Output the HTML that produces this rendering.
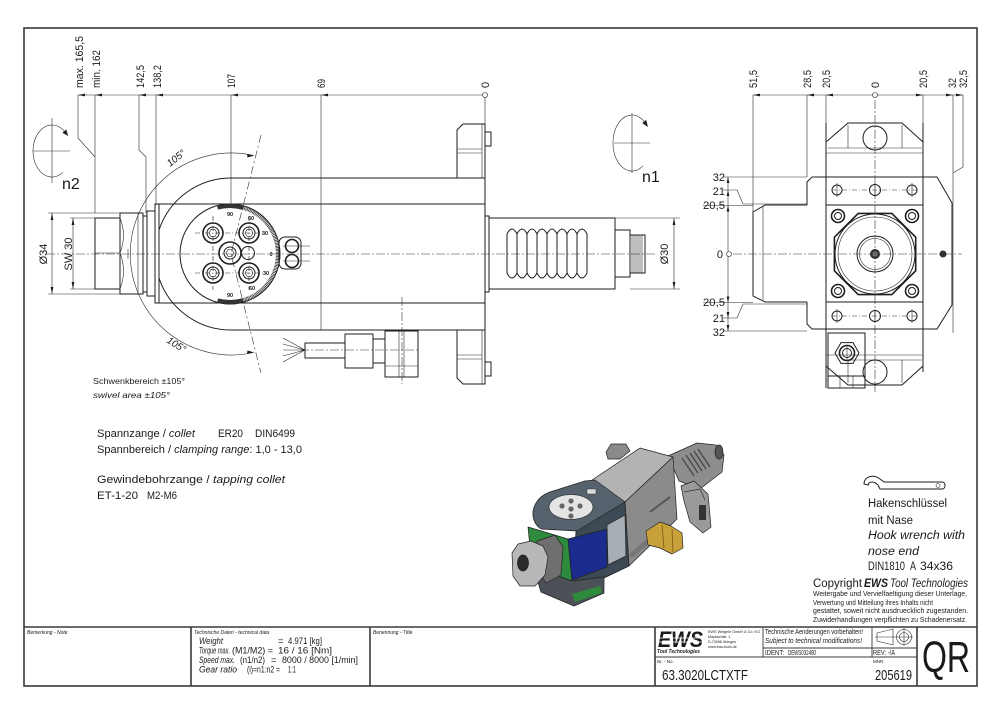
<!DOCTYPE html>
<html><head><meta charset="utf-8"><style>
html,body{margin:0;padding:0;background:#fff;width:1000px;height:715px;overflow:hidden}
svg{display:block}
text{font-family:"Liberation Sans","DejaVu Sans",sans-serif;fill:#1a1a1a}
.l{stroke:#1e1e1e;stroke-width:1;fill:none}
.t{stroke:#2a2a2a;stroke-width:0.6;fill:none}
.k{stroke:#1e1e1e;stroke-width:1.6;fill:none}
.c{stroke:#333;stroke-width:0.6;fill:none;stroke-dasharray:9 2 2 2}
.a{fill:#1e1e1e;stroke:none}
.w{fill:#fff}
</style></head><body>
<svg xmlns="http://www.w3.org/2000/svg" width="1000" height="715" viewBox="0 0 1000 715">
<rect width="1000" height="715" fill="#fff"/>

<!-- FRAME & TITLE BLOCK -->
<g stroke="#3a3a3a" stroke-width="1.6" fill="none">
<rect x="24" y="28" width="953" height="658"/>
<line x1="24" y1="627" x2="977" y2="627"/>
<line x1="191" y1="627" x2="191" y2="686"/>
<line x1="370" y1="627" x2="370" y2="686"/>
<line x1="655" y1="627" x2="655" y2="686"/>
<line x1="917" y1="627" x2="917" y2="686"/>
</g>
<g stroke="#3a3a3a" stroke-width="0.9" fill="none">
<line x1="763" y1="627" x2="763" y2="657"/>
<line x1="872" y1="627" x2="872" y2="657"/>
<line x1="763" y1="648" x2="917" y2="648"/>
<line x1="655" y1="657" x2="917" y2="657"/>
</g>
<text x="27" y="634" font-size="5" font-style="italic">Bemerkung - Note</text>
<text x="194" y="634" font-size="5" font-style="italic">Technische Daten - technical data</text>
<text x="373" y="634" font-size="5" font-style="italic">Benennung - Title</text>

<g font-size="9.5">
<text x="199" y="644" font-style="italic" textLength="24" lengthAdjust="spacingAndGlyphs">Weight</text>
<text x="278" y="644">=</text>
<text x="288" y="644" textLength="34" lengthAdjust="spacingAndGlyphs">4.971 [kg]</text>
<text x="199" y="653.5" font-style="italic" textLength="31" lengthAdjust="spacingAndGlyphs">Torque max.</text>
<text x="232" y="653.5" textLength="41" lengthAdjust="spacingAndGlyphs">(M1/M2) =</text>
<text x="278" y="653.5" textLength="54" lengthAdjust="spacingAndGlyphs">16 / 16 [Nm]</text>
<text x="199" y="663" font-style="italic" textLength="36" lengthAdjust="spacingAndGlyphs">Speed max.</text>
<text x="240" y="663" textLength="25" lengthAdjust="spacingAndGlyphs">(n1/n2)</text>
<text x="271" y="663">=</text>
<text x="282" y="663" textLength="76" lengthAdjust="spacingAndGlyphs">8000 / 8000 [1/min]</text>
<text x="199" y="672.5" font-style="italic" textLength="38" lengthAdjust="spacingAndGlyphs">Gear ratio</text>
<text x="247" y="672.5" textLength="33" lengthAdjust="spacingAndGlyphs">(i)=n1:n2 =</text>
<text x="288" y="672.5" textLength="8" lengthAdjust="spacingAndGlyphs">1:1</text>
</g>

<!-- EWS logo -->
<text x="658" y="647" font-size="22" font-weight="bold" font-style="italic" textLength="45" lengthAdjust="spacingAndGlyphs">EWS</text>
<line x1="656" y1="638" x2="705" y2="638" stroke="#fff" stroke-width="0.8"/>
<line x1="656" y1="642" x2="705" y2="642" stroke="#fff" stroke-width="0.8"/>
<text x="657" y="653" font-size="5.5" font-weight="bold" font-style="italic" textLength="43" lengthAdjust="spacingAndGlyphs">Tool Technologies</text>
<g font-size="3.6">
<text x="708" y="633" textLength="52" lengthAdjust="spacingAndGlyphs">EWS Weigele GmbH &amp; Co. KG</text>
<text x="708" y="638">Maybachstr. 1</text>
<text x="708" y="643">D-73066 Uhingen</text>
<text x="708" y="648">www.ews-tools.de</text>
</g>
<text x="765" y="634" font-size="7" textLength="98" lengthAdjust="spacingAndGlyphs">Technische Aenderungen vorbehalten!</text>
<text x="765" y="643" font-size="7" font-style="italic" textLength="97" lengthAdjust="spacingAndGlyphs">Subject to technical modifications!</text>
<text x="765" y="655" font-size="7" textLength="19" lengthAdjust="spacingAndGlyphs">IDENT:</text>
<text x="788" y="655" font-size="7" textLength="28" lengthAdjust="spacingAndGlyphs">DEWS032480</text>
<text x="873" y="655" font-size="7" textLength="22" lengthAdjust="spacingAndGlyphs">REV:  -/A</text>
<!-- icon -->
<g class="t" stroke-width="0.8">
<path d="M877,633 L893,629 V645 L877,641 Z"/>
<line x1="875" y1="637" x2="895" y2="637"/>
<circle cx="904" cy="637" r="7.5"/>
<circle cx="904" cy="637" r="4.5"/>
<line x1="895" y1="637" x2="913" y2="637"/>
<line x1="904" y1="628" x2="904" y2="646"/>
</g>
<text x="657" y="663" font-size="4.5">Nr. - No.</text>
<text x="873" y="663" font-size="4.5">MNR.</text>
<text x="662" y="680" font-size="15" textLength="86" lengthAdjust="spacingAndGlyphs">63.3020LCTXTF</text>
<text x="875" y="680" font-size="15" textLength="37" lengthAdjust="spacingAndGlyphs">205619</text>
<text x="922" y="672" font-size="44" textLength="48" lengthAdjust="spacingAndGlyphs">QR</text>

<!-- ============ LEFT VIEW ============ -->
<g class="t" stroke-width="0.9">
<line x1="52" y1="118" x2="52" y2="183"/>
<line x1="33" y1="151" x2="70" y2="151"/>
<path d="M64.2,131.1 A19,26 0 1 0 62.9,172.3"/>
</g>
<polygon points="68.2,136 62.4,132.8 66.2,129.4" class="a"/>
<text x="62" y="189" font-size="16">n2</text>

<g class="t">
<line x1="78" y1="95" x2="482.5" y2="95"/>
<path d="M78,95V138L95,157"/>
<path d="M95,95V213"/>
<path d="M139,95V150L146,157V213"/>
<path d="M156,95V205"/>
<path d="M231,95V204"/>
<path d="M321,95V330"/>
<path d="M485,97.5V124"/>
</g>
<circle cx="485" cy="95" r="2.5" fill="#fff" stroke="#222" stroke-width="0.6"/>
<path class="a" d="M78,95l7,-1.4v2.8z M95,95l7,-1.4v2.8z M139,95l7,-1.4v2.8z M156,95l7,-1.4v2.8z M231,95l7,-1.4v2.8z M321,95l7,-1.4v2.8z"/>
<g font-size="11">
<text transform="translate(83,88) rotate(-90)" textLength="52" lengthAdjust="spacingAndGlyphs">max. 165,5</text>
<text transform="translate(100,88) rotate(-90)" textLength="38" lengthAdjust="spacingAndGlyphs">min. 162</text>
<text transform="translate(144,88) rotate(-90)" textLength="23" lengthAdjust="spacingAndGlyphs">142,5</text>
<text transform="translate(161,88) rotate(-90)" textLength="23" lengthAdjust="spacingAndGlyphs">138,2</text>
<text transform="translate(235,88) rotate(-90)" textLength="14" lengthAdjust="spacingAndGlyphs">107</text>
<text transform="translate(325,88) rotate(-90)" textLength="9" lengthAdjust="spacingAndGlyphs">69</text>
<text transform="translate(489,88) rotate(-90)">0</text>
</g>

<line x1="46" y1="254" x2="655" y2="254" class="c"/>

<path class="t" d="M253.6,155.5 A101,101 0 1 0 253.6,352.5"/>
<line x1="128" y1="249" x2="128" y2="259" class="t"/>
<path class="t" style="stroke-dasharray:8 3 2 3" d="M261,135 L231,254 L261,373"/>
<path class="a" d="M254,155.6 l-7,-1.5 l0.5,3.4z M254,352.4 l-7,1.5 l0.5,-3.4z"/>
<text transform="translate(170,167) rotate(-38)" font-size="10" font-style="italic">105°</text>
<text transform="translate(166,342) rotate(32)" font-size="10" font-style="italic">105°</text>

<path class="l" d="M231,178H485V330H231 M157,204H485 M157,303H485"/>
<path class="l" d="M231,178A76,76 0 0 0 159,230 M159,278A76,76 0 0 0 231,330"/>
<rect x="147" y="211" width="8" height="85" class="l"/>
<rect x="155" y="204" width="4" height="99" class="l"/>
<rect x="95" y="218" width="25" height="71" class="l"/>
<line x1="95" y1="253" x2="120" y2="253" class="t"/>
<path class="l" d="M120,213H143V294H120Z"/>
<path class="t" d="M120,218 Q127,235 120,253 Q127,271 120,289 M138,213V294"/>
<rect x="143" y="216" width="4" height="76" class="l"/>
<g class="t">
<path d="M48,213H120 M48,294H120 M70,218H95 M70,289H95"/>
<line x1="52" y1="213" x2="52" y2="294"/>
<line x1="73" y1="218" x2="73" y2="289"/>
</g>
<path class="a" d="M52,213l-1.4,7h2.8z M52,294l-1.4,-7h2.8z M73,218l-1.4,7h2.8z M73,289l-1.4,-7h2.8z"/>
<text transform="translate(47,254) rotate(-90)" font-size="11" text-anchor="middle">Ø34</text>
<text transform="translate(72,254) rotate(-90)" font-size="11" text-anchor="middle">SW 30</text>

<circle cx="230" cy="254" r="50" class="l"/>
<path d="M217.6,207.6 A48,48 0 1 1 217.6,300.4" fill="none" stroke="#333" stroke-width="4" stroke-dasharray="0.8 0.7"/>
<path d="M217.6,207.6 A48,48 0 0 1 243,207.8 M243,300.2 A48,48 0 0 1 217.6,300.4" fill="none" stroke="#333" stroke-width="4"/>
<g font-size="5.5" font-weight="bold" text-anchor="middle">
<text x="230" y="216">90</text>
<text x="251" y="220">60</text>
<text x="265" y="235">30</text>
<text x="271" y="256">0</text>
<text x="266" y="275">30</text>
<text x="252" y="290">60</text>
<text x="230" y="297">90</text>
</g>
<g class="t">
<line x1="195" y1="233" x2="265" y2="233" style="stroke-dasharray:5 2 1 2"/>
<line x1="195" y1="273" x2="265" y2="273" style="stroke-dasharray:5 2 1 2"/>
<line x1="213" y1="216" x2="213" y2="290" style="stroke-dasharray:5 2 1 2"/>
<line x1="249" y1="216" x2="249" y2="290" style="stroke-dasharray:5 2 1 2"/>
</g>
<g>
<g transform="translate(213,233)"><circle r="10" class="k" fill="#fff"/><circle r="6" class="l"/><polygon points="4,0 2,3.4 -2,3.4 -4,0 -2,-3.4 2,-3.4" class="t"/></g>
<g transform="translate(249,233)"><circle r="10" class="k" fill="#fff"/><circle r="6" class="l"/><polygon points="4,0 2,3.4 -2,3.4 -4,0 -2,-3.4 2,-3.4" class="t"/></g>
<g transform="translate(213,273)"><circle r="10" class="k" fill="#fff"/><circle r="6" class="l"/><polygon points="4,0 2,3.4 -2,3.4 -4,0 -2,-3.4 2,-3.4" class="t"/></g>
<g transform="translate(249,273)"><circle r="10" class="k" fill="#fff"/><circle r="6" class="l"/><polygon points="4,0 2,3.4 -2,3.4 -4,0 -2,-3.4 2,-3.4" class="t"/></g>
<g transform="translate(230,253)"><circle r="11" class="k" fill="#fff"/><circle r="6" class="l"/><polygon points="4,0 2,3.4 -2,3.4 -4,0 -2,-3.4 2,-3.4" class="t"/></g>
<circle cx="248" cy="253" r="6.5" class="l" fill="#fff"/>
</g>
<rect x="279" y="237" width="22" height="32" rx="6" class="l" fill="#fff"/>
<circle cx="292" cy="246" r="6.5" class="k"/>
<circle cx="292" cy="261" r="6.5" class="k"/>
<path class="t" d="M283,246H310 M283,261H310"/>

<g class="l">
<path d="M457,178V130L463,124H485V178"/>
<path d="M485,132H491V146H485"/>
<path d="M457,330V378L463,384H485V330"/>
<path d="M485,362H491V376H485"/>
</g>
<g class="t">
<path d="M482,124V178 M457,149H482 M457,153H482"/>
<path d="M482,330V384 M457,355H482 M457,359H482"/>
</g>

<rect x="485" y="216" width="4" height="76" class="l"/>
<rect x="489" y="218" width="126" height="71" class="l"/>
<g class="l" stroke-width="0.9">
<path d="M507,234Q512,224 517,234V273Q512,283 507,273Z"/>
<path d="M517,234Q522,224 527,234V273Q522,283 517,273Z"/>
<path d="M527,234Q532,224 537,234V273Q532,283 527,273Z"/>
<path d="M537,234Q542,224 547,234V273Q542,283 537,273Z"/>
<path d="M547,234Q552,224 557,234V273Q552,283 547,273Z"/>
<path d="M557,234Q562,224 567,234V273Q562,283 557,273Z"/>
<path d="M567,234Q572,224 577,234V273Q572,283 567,273Z"/>
<path d="M577,234Q582,224 587,234V273Q582,283 577,273Z"/>
</g>
<rect x="615" y="230" width="15" height="47" class="l"/>
<rect x="630" y="235" width="15" height="38" class="l"/>
<path class="t" d="M632,235V273 M634,235V273 M636,235V273 M638,235V273 M640,235V273 M642,235V273"/>
<path class="t" d="M615,218H680 M630,289H680 M674,218V289"/>
<path class="a" d="M674,218l-1.4,7h2.8z M674,289l-1.4,-7h2.8z"/>
<text transform="translate(668,254) rotate(-90)" font-size="11" text-anchor="middle">Ø30</text>

<g class="t">
<path d="M305,350L283,338 M305,350L283,344 M305,350L283,350 M305,350L283,356 M305,350L283,362"/>
</g>
<rect x="305" y="343" width="40" height="15" class="l"/>
<rect x="345" y="334" width="28" height="34" class="l"/>
<rect x="373" y="339" width="12" height="24" class="l"/>
<rect x="385" y="331" width="33" height="46" class="l"/>
<path class="t" d="M385,366H418 M399,331V377 M404,331V377"/>
<line x1="402" y1="297" x2="402" y2="384" class="c"/>
<line x1="300" y1="350" x2="418" y2="350" class="c"/>

<!-- ============ n1 ============ -->
<g class="t" stroke-width="0.9">
<line x1="632" y1="113" x2="632" y2="173"/>
<line x1="614" y1="143" x2="650" y2="143"/>
<path d="M644.2,121.6 A19,28 0 1 0 642.9,165.9"/>
</g>
<polygon points="648,127 642.3,123.2 646.1,119.8" class="a"/>
<text x="642" y="182" font-size="16">n1</text>

<!-- ============ RIGHT VIEW ============ -->
<g class="t">
<line x1="753" y1="95" x2="963" y2="95"/>
<path d="M753,95V212 M807,95V177 M826,95V142 M923,95V142 M953,95V333 M963,95V167L953,173"/>
<line x1="728" y1="177" x2="728" y2="251.5"/>
<line x1="728" y1="256.5" x2="728" y2="331"/>
<path d="M723,177H807 M723,190H737L743,204H807 M703,205.5H753"/>
<path d="M723,331H807 M723,318H737L743,304H807 M703,302.5H753"/>
</g>
<circle cx="875" cy="95" r="2.5" fill="#fff" stroke="#222" stroke-width="0.6"/>
<circle cx="729" cy="254" r="2.5" fill="#fff" stroke="#222" stroke-width="0.6"/>
<path class="a" d="M753,95l7,-1.4v2.8z M807,95l7,-1.4v2.8z M826,95l7,-1.4v2.8z M923,95l-7,-1.4v2.8z M953,95l-7,-1.4v2.8z M963,95l-7,-1.4v2.8z
M728,177l-1.4,6h2.8z M728,190l-1.4,6h2.8z M728,205.5l-1.4,6h2.8z M728,331l-1.4,-6h2.8z M728,318l-1.4,-6h2.8z M728,302.5l-1.4,-6h2.8z"/>
<g font-size="11">
<text transform="translate(757,88) rotate(-90)" textLength="18" lengthAdjust="spacingAndGlyphs">51,5</text>
<text transform="translate(811,88) rotate(-90)" textLength="18" lengthAdjust="spacingAndGlyphs">28,5</text>
<text transform="translate(830,88) rotate(-90)" textLength="18" lengthAdjust="spacingAndGlyphs">20,5</text>
<text transform="translate(879,88) rotate(-90)">0</text>
<text transform="translate(927,88) rotate(-90)" textLength="18" lengthAdjust="spacingAndGlyphs">20,5</text>
<text transform="translate(956,88) rotate(-90)" textLength="10" lengthAdjust="spacingAndGlyphs">32</text>
<text transform="translate(967,88) rotate(-90)" textLength="18" lengthAdjust="spacingAndGlyphs">32,5</text>
</g>
<g font-size="11" text-anchor="end">
<text x="725" y="181">32</text>
<text x="725" y="195">21</text>
<text x="725" y="209" textLength="22" lengthAdjust="spacingAndGlyphs">20,5</text>
<text x="723" y="258">0</text>
<text x="725" y="306" textLength="22" lengthAdjust="spacingAndGlyphs">20,5</text>
<text x="725" y="322">21</text>
<text x="725" y="336">32</text>
</g>

<path class="l" d="M812,177H937L952,203V305L937,329H812L807,324V302 M807,205V182L812,177"/>
<path class="l" d="M807,205H765L753,212V296L765,302H807"/>
<line x1="763" y1="206" x2="763" y2="301" class="t"/>
<path class="l" d="M826,123V388 M923,123V372"/>
<path class="l" d="M826,142L848,123H902L923,142"/>
<path class="t" d="M848,125V148H902V125 M828,148H848 M902,148H922 M826,153H923"/>
<circle cx="875" cy="138" r="12" class="l" fill="#fff"/>
<rect x="826" y="205" width="97" height="97" class="l"/>
<g class="t">
<path d="M832,190H918 M832,316H918" style="stroke-dasharray:5 2 1 2"/>
<path d="M837,183V197 M875,183V197 M912,183V197 M837,309V323 M875,309V323 M912,309V323"/>
</g>
<g class="l">
<circle cx="837" cy="190" r="5"/><circle cx="875" cy="190" r="5.5"/><circle cx="912" cy="190" r="5"/>
<circle cx="837" cy="316" r="5"/><circle cx="875" cy="316" r="5.5"/><circle cx="912" cy="316" r="5"/>
</g>
<g>
<circle cx="838" cy="216" r="6.5" class="k"/><circle cx="838" cy="216" r="3.5" class="l"/>
<circle cx="912" cy="216" r="6.5" class="k"/><circle cx="912" cy="216" r="3.5" class="l"/>
<circle cx="838" cy="291" r="6.5" class="k"/><circle cx="838" cy="291" r="3.5" class="l"/>
<circle cx="912" cy="291" r="6.5" class="k"/><circle cx="912" cy="291" r="3.5" class="l"/>
</g>
<polygon points="915.7,237.2 891.8,213.4 858.2,213.4 834.4,237.2 834.4,270.8 858.2,294.6 891.8,294.6 915.7,270.8" class="k"/>
<circle cx="875" cy="254" r="40" class="l"/>
<circle cx="875" cy="254" r="37" class="t"/>
<circle cx="875" cy="254" r="18" class="l"/>
<circle cx="875" cy="254" r="15.5" class="t"/>
<circle cx="875" cy="254" r="5" fill="#333"/>
<circle cx="875" cy="254" r="2.5" fill="#888"/>
<circle cx="943" cy="254" r="3.5" fill="#333"/>
<line x1="733" y1="254" x2="962" y2="254" class="c"/>
<line x1="875" y1="100" x2="875" y2="392" class="c"/>
<path class="l" d="M826,366L848,385H902L923,366"/>
<path class="t" d="M826,355H923 M848,360V383 M848,360H902V383 M902,360H922"/>
<circle cx="875" cy="372" r="12" class="l" fill="#fff"/>
<rect x="828" y="333" width="37" height="43" class="l" fill="#fff"/>
<polygon points="859,353 853,363.4 841,363.4 835,353 841,342.6 853,342.6" class="l"/>
<circle cx="847" cy="353" r="7.5" class="k"/>
<circle cx="847" cy="353" r="4.5" class="l"/>
<line x1="847" y1="345" x2="847" y2="361" class="t"/>
<rect x="828" y="376" width="37" height="12" class="l" fill="#fff"/>
<path class="t" d="M840,376V388 M853,376V388"/>

<!-- ============ TEXT BLOCKS ============ -->
<text x="93" y="384" font-size="8.5" textLength="92" lengthAdjust="spacingAndGlyphs">Schwenkbereich ±105°</text>
<text x="93" y="398" font-size="8.5" font-style="italic" textLength="77" lengthAdjust="spacingAndGlyphs">swivel area ±105°</text>

<text x="97" y="437" font-size="11" textLength="98" lengthAdjust="spacingAndGlyphs">Spannzange / <tspan font-style="italic">collet</tspan></text>
<text x="218" y="437" font-size="11" textLength="25" lengthAdjust="spacingAndGlyphs">ER20</text>
<text x="255" y="437" font-size="11" textLength="40" lengthAdjust="spacingAndGlyphs">DIN6499</text>
<text x="97" y="453" font-size="11" textLength="205" lengthAdjust="spacingAndGlyphs">Spannbereich / <tspan font-style="italic">clamping range</tspan>: 1,0 - 13,0</text>
<text x="97" y="483" font-size="11" textLength="188" lengthAdjust="spacingAndGlyphs">Gewindebohrzange / <tspan font-style="italic">tapping collet</tspan></text>
<text x="97" y="499" font-size="11" textLength="41" lengthAdjust="spacingAndGlyphs">ET-1-20</text>
<text x="147" y="499" font-size="11" textLength="30" lengthAdjust="spacingAndGlyphs">M2-M6</text>

<!-- hook wrench -->
<path class="l" d="M880,479 C874,474 864,476 864,484 L868,485 C869,481 874,481 878,485 L880,489 H942 C946,489 946,482 942,482 H884 Z"/>
<circle cx="938" cy="485.5" r="2" class="t"/>
<g font-size="11.5">
<text x="868" y="507" textLength="79" lengthAdjust="spacingAndGlyphs">Hakenschlüssel</text>
<text x="868" y="524" textLength="45" lengthAdjust="spacingAndGlyphs">mit Nase</text>
<text x="868" y="539" font-style="italic" textLength="97" lengthAdjust="spacingAndGlyphs">Hook wrench with</text>
<text x="868" y="555" font-style="italic" textLength="51" lengthAdjust="spacingAndGlyphs">nose end</text>
<text x="868" y="570" textLength="37" lengthAdjust="spacingAndGlyphs">DIN1810</text>
<text x="910" y="570" textLength="6" lengthAdjust="spacingAndGlyphs">A</text>
<text x="920" y="570" textLength="33" lengthAdjust="spacingAndGlyphs">34x36</text>
</g>
<text x="813" y="587" font-size="11.5" textLength="49" lengthAdjust="spacingAndGlyphs">Copyright</text>
<text x="864" y="587" font-size="11.5" font-weight="bold" font-style="italic" textLength="24" lengthAdjust="spacingAndGlyphs">EWS</text>
<text x="890" y="587" font-size="11.5" font-style="italic" textLength="78" lengthAdjust="spacingAndGlyphs">Tool Technologies</text>
<g font-size="7.5">
<text x="813" y="596" textLength="154" lengthAdjust="spacingAndGlyphs">Weitergabe und Vervielfaeltigung dieser Unterlage,</text>
<text x="813" y="605" textLength="120" lengthAdjust="spacingAndGlyphs">Verwertung und Mitteilung ihres Inhalts nicht</text>
<text x="813" y="613" textLength="155" lengthAdjust="spacingAndGlyphs">gestattet, soweit nicht ausdruecklich zugestanden.</text>
<text x="813" y="622" textLength="154" lengthAdjust="spacingAndGlyphs">Zuwiderhandlungen verpflichten zu Schadenersatz.</text>
</g>

<!-- ============ 3D RENDER ============ -->
<g stroke="#222" stroke-width="0.7" stroke-linejoin="round">
<polygon points="668,456 697,443 716,445 724,455 722,472 700,489 679,481" fill="#8d8d8d"/>
<path d="M682,458 L694,476 M686,455 L698,473 M690,453 L702,471 M694,451 L706,469 M698,449 L710,467" stroke="#444" stroke-width="1.2"/>
<ellipse cx="719" cy="452" rx="4" ry="7" fill="#555"/>
<polygon points="606,452 611,444 626,444 630,451 620,459 608,459" fill="#8a8a8a"/>
<polygon points="592,480 640,448 673,457 625,502" fill="#b3b3b3"/>
<polygon points="625,502 673,457 677,519 629,566" fill="#8b8b8b"/>
<path d="M650,512 L670,497" stroke="#555" stroke-width="2"/>
<polygon points="576,531 625,502 629,566 604,578 573,581" fill="#3d4955"/>
<polygon points="607,525 625,515 626,556 608,565" fill="#a7aeb4"/>
<path d="M533,511 Q536,497 550,492 L585,481 L595,480 L625,502 L577,531 L541,529 Q532,523 533,511Z" fill="#56626e"/>
<ellipse cx="571" cy="507" rx="22" ry="12.5" fill="#e4e4e4" stroke="#333"/>
<g fill="#666" stroke="none">
<circle cx="562" cy="506" r="2.6"/><circle cx="571" cy="501" r="2.6"/><circle cx="580" cy="506" r="2.6"/>
<circle cx="571" cy="509" r="2.6"/><circle cx="571" cy="516" r="2.6"/>
</g>
<rect x="587" y="489" width="9" height="5" fill="#ddd" stroke="#333" stroke-width="0.5"/>
<polygon points="528,527 568,539 572,581 532,568" fill="#2e8a3c"/>
<polygon points="568,539 607,529 607,567 572,580" fill="#1b2b8e"/>
<polygon points="533,567 572,581 604,577 604,593 574,606 541,592" fill="#4b5157"/>
<polygon points="572,594 600,586 602,593 575,602" fill="#2e8a3c" stroke="none"/>
<polygon points="537,541 555,535 563,547 561,575 546,583 538,570" fill="#6f6f6f"/>
<polygon points="512,553 518,544 531,541 543,546 548,557 545,575 535,586 520,586 513,576" fill="#b8b8b8"/>
<ellipse cx="523" cy="563" rx="5.5" ry="8" fill="#2a2a2a"/>
<line x1="632" y1="555" x2="649" y2="540" stroke="#777" stroke-width="5" stroke-linecap="round"/>
<polygon points="646,531 660,522 671,526 682,533 683,548 672,554 660,548 648,545" fill="#c9a13a"/>
<path d="M662,525 L664,548 M672,529 L673,552" stroke="#7a5a10" stroke-width="0.8"/>
<polygon points="681,486 694,481 708,494 711,527 703,533 690,522 684,501" fill="#9a9a9a"/>
<rect x="699" y="505" width="7" height="15" fill="#333" stroke="none"/>
<path d="M684,492 L700,489 L705,500" stroke="#333" fill="none"/>
</g>
</svg>
</body></html>
